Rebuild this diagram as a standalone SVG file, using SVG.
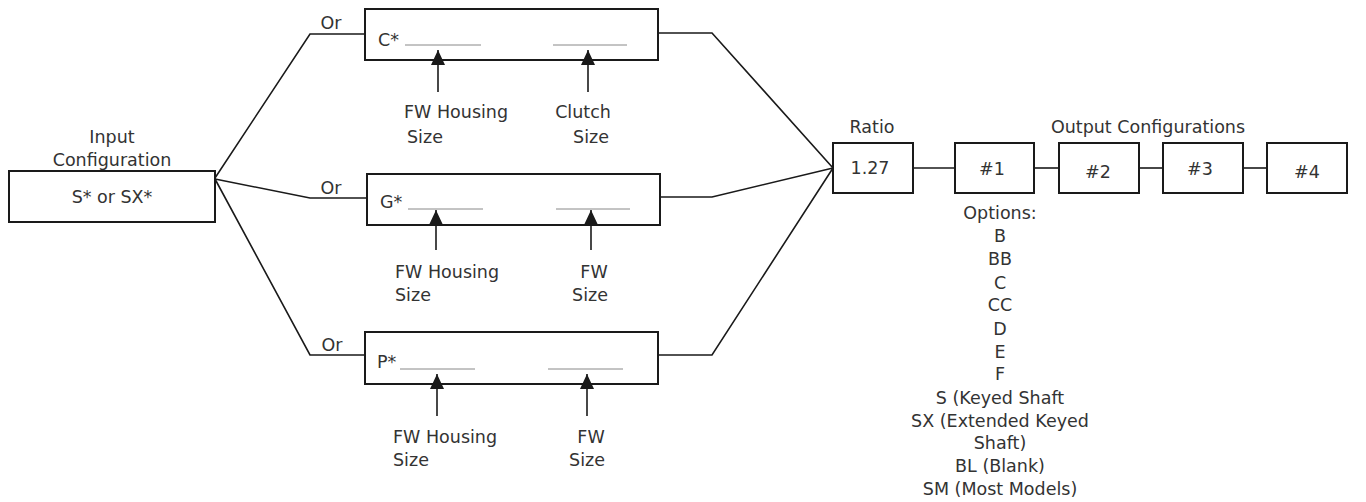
<svg xmlns="http://www.w3.org/2000/svg" width="1366" height="502" viewBox="0 0 1366 502">
<style>
text{font-family:"DejaVu Sans","Liberation Sans",sans-serif;font-size:17.5px;fill:#333}
.c{text-anchor:middle}
.box{fill:#fff;stroke:#1a1a1a;stroke-width:2}
.ln{fill:none;stroke:#1a1a1a;stroke-width:1.6}
.ul{stroke:#888;stroke-width:1}
.ar{stroke:#1a1a1a;stroke-width:1.6;marker-end:url(#ah)}
</style>
<defs>
<marker id="ah" viewBox="0 0 15 14" refX="15" refY="7" markerWidth="15" markerHeight="14" markerUnits="userSpaceOnUse" orient="auto">
<path d="M0,0 L15,7 L0,14 Z" fill="#1a1a1a"/>
</marker>
</defs>
<rect width="1366" height="502" fill="#fff"/>
<g id="connectors">
<polyline class="ln" points="215,178 310,34 365,34"/>
<polyline class="ln" points="215,179 310,198 367,198"/>
<polyline class="ln" points="215,179 310,355 365,355"/>
<polyline class="ln" points="658,33 712,33 833,168"/>
<polyline class="ln" points="660,197 712,197 833,168"/>
<polyline class="ln" points="658,355 712,355 833,168"/>
<line class="ln" x1="913" y1="168" x2="955" y2="168"/>
<line class="ln" x1="1034" y1="168" x2="1059" y2="168"/>
<line class="ln" x1="1139" y1="168" x2="1163" y2="168"/>
<line class="ln" x1="1243" y1="168" x2="1267" y2="168"/>
<text x="331" y="29" class="c">Or</text>
<text x="331" y="194" class="c">Or</text>
<text x="332" y="351" class="c">Or</text>
</g>
<g id="input">
<text x="112" y="143" class="c">Input</text>
<text x="112" y="166" class="c">Configuration</text>
<rect class="box" x="9" y="171" width="206" height="51"/>
<text x="112" y="203" class="c">S* or SX*</text>
</g>
<g id="c-box">
<rect class="box" x="365" y="9" width="293" height="51"/>
<text x="378" y="46">C*</text>
<line class="ul" x1="405" y1="45" x2="481" y2="45"/>
<line class="ul" x1="553" y1="45" x2="627" y2="45"/>
<line class="ar" x1="438" y1="92" x2="438" y2="50"/>
<line class="ar" x1="588" y1="92" x2="588" y2="50"/>
<text x="404" y="118">FW Housing</text>
<text x="407" y="143">Size</text>
<text x="583" y="118" class="c">Clutch</text>
<text x="591" y="143" class="c">Size</text>
</g>
<g id="g-box">
<rect class="box" x="367" y="174" width="293" height="51"/>
<text x="380" y="208">G*</text>
<line class="ul" x1="408" y1="209" x2="483" y2="209"/>
<line class="ul" x1="556" y1="209" x2="630" y2="209"/>
<line class="ar" x1="436" y1="250" x2="436" y2="210"/>
<line class="ar" x1="591" y1="250" x2="591" y2="210"/>
<text x="395" y="278">FW Housing</text>
<text x="395" y="301">Size</text>
<text x="594" y="278" class="c">FW</text>
<text x="590" y="301" class="c">Size</text>
</g>
<g id="p-box">
<rect class="box" x="365" y="332" width="293" height="52"/>
<text x="377" y="368">P*</text>
<line class="ul" x1="400" y1="369" x2="475" y2="369"/>
<line class="ul" x1="548" y1="369" x2="623" y2="369"/>
<line class="ar" x1="437" y1="416" x2="437" y2="374"/>
<line class="ar" x1="587" y1="416" x2="587" y2="374"/>
<text x="393" y="443">FW Housing</text>
<text x="393" y="466">Size</text>
<text x="591" y="443" class="c">FW</text>
<text x="587" y="466" class="c">Size</text>
</g>
<g id="ratio">
<text x="872" y="133" class="c">Ratio</text>
<rect class="box" x="833" y="143" width="80" height="50"/>
<text x="870" y="174" class="c">1.27</text>
</g>
<text x="1148" y="133" class="c">Output Configurations</text>
<g id="out1">
<rect class="box" x="955" y="143" width="79" height="50"/>
<text x="992" y="175" class="c">#1</text>
</g>
<g id="out2">
<rect class="box" x="1059" y="143" width="80" height="50"/>
<text x="1098" y="178" class="c">#2</text>
</g>
<g id="out3">
<rect class="box" x="1163" y="143" width="80" height="50"/>
<text x="1200" y="175" class="c">#3</text>
</g>
<g id="out4">
<rect class="box" x="1267" y="143" width="80" height="50"/>
<text x="1307" y="178" class="c">#4</text>
</g>
<g id="options">
<text x="1000" y="219" class="c">Options:</text>
<text x="1000" y="242" class="c">B</text>
<text x="1000" y="265" class="c">BB</text>
<text x="1000" y="289" class="c">C</text>
<text x="1000" y="311" class="c">CC</text>
<text x="1000" y="335" class="c">D</text>
<text x="1000" y="358" class="c">E</text>
<text x="1000" y="380" class="c">F</text>
<text x="1000" y="404" class="c">S (Keyed Shaft</text>
<text x="1000" y="427" class="c">SX (Extended Keyed</text>
<text x="1000" y="449" class="c">Shaft)</text>
<text x="1000" y="472" class="c">BL (Blank)</text>
<text x="1000" y="495" class="c">SM (Most Models)</text>
</g>
</svg>
